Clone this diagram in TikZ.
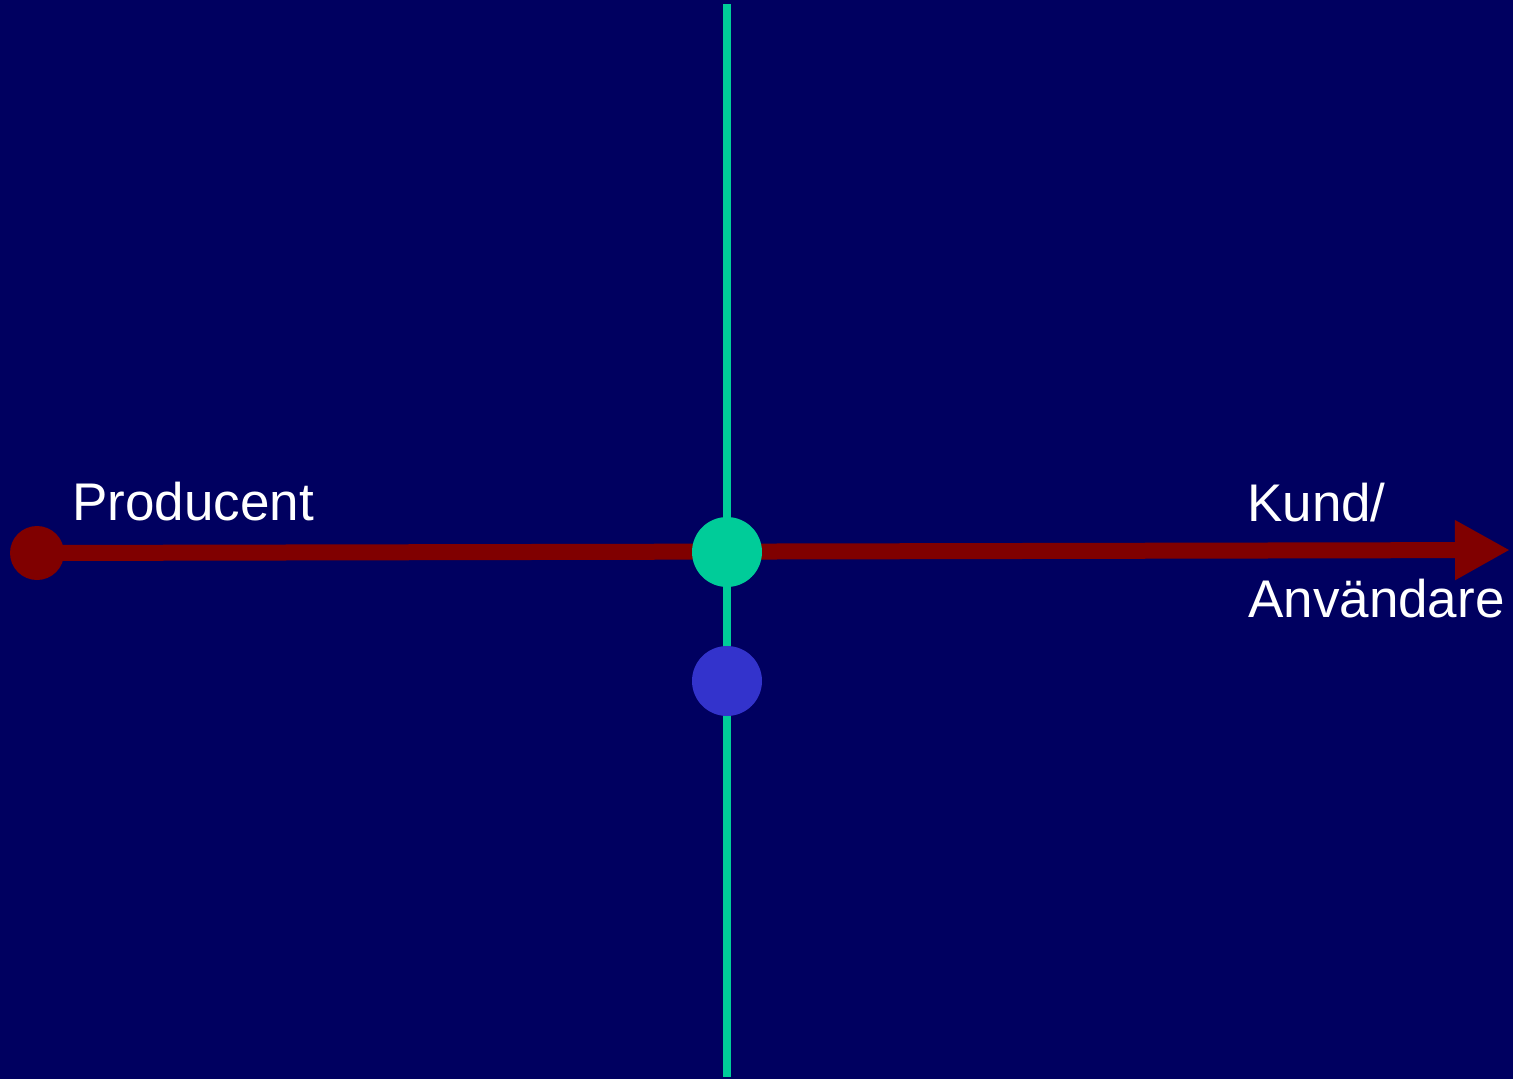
\documentclass[tikz,border=0pt]{standalone}
\usepackage{fontspec}
\setmainfont{Liberation Sans}
\usetikzlibrary{arrows.meta}
\definecolor{bgnavy}{RGB}{0,0,96}
\definecolor{axisred}{RGB}{128,0,0}
\definecolor{axisgreen}{RGB}{0,204,153}
\definecolor{dotblue}{RGB}{51,51,204}
\begin{document}
\begin{tikzpicture}[x=1pt,y=-1pt,
  lbl/.style={text=white,inner sep=0pt,anchor=base west,font=\fontsize{53}{64}\selectfont},
  dot/.style={circle,inner sep=0pt,minimum size=#1}]
\fill[bgnavy] (0,0) rectangle (1513,1079);
\useasboundingbox (0,0) rectangle (1513,1079);
% vertical green axis
\coordinate (vtop) at (727,4);
\coordinate (vbot) at (727,1077);
\draw[axisgreen,line width=8pt] (vtop) -- (vbot);
% horizontal red axis
\node[dot=54pt,fill=axisred] (prod) at (37,553) {};
\coordinate (tip) at (1510,550);
\draw[axisred,line width=16pt,-{Triangle[length=55pt,width=56pt]}] (prod.center) -- (tip);
% circles on vertical axis
\node[dot=70pt,fill=axisgreen] (gdot) at (727,552) {};
\node[dot=70pt,fill=dotblue] (bdot) at (727,681) {};
% labels
\node[lbl] (tprod) at (72,520) {Producent};
\node[lbl] (tkund) at (1247,521) {Kund/};
\node[lbl] (tanv) at (1248,617) {Användare};
\end{tikzpicture}
\end{document}
